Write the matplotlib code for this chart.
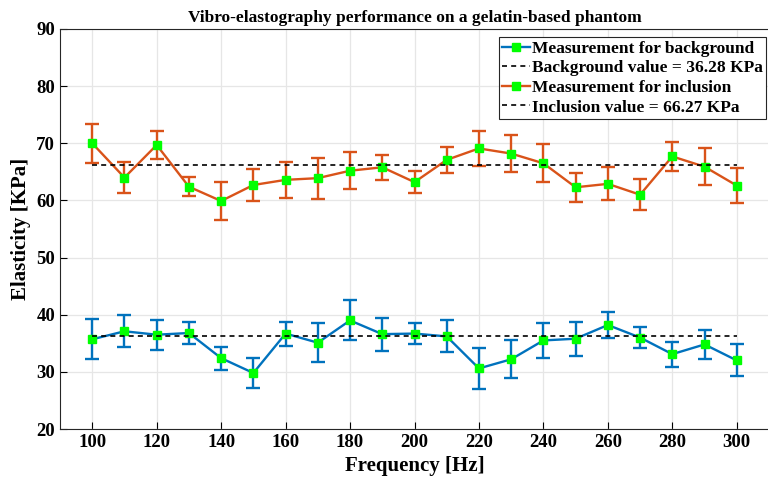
import matplotlib
matplotlib.use("Agg")
from matplotlib import pyplot as plt
from matplotlib.lines import Line2D

plt.rcParams['font.family'] = ['Liberation Serif', 'DejaVu Serif']
plt.rcParams['font.weight'] = 'bold'

freq = [100, 110, 120, 130, 140, 150, 160, 170, 180, 190, 200,
        210, 220, 230, 240, 250, 260, 270, 280, 290, 300]

bg_mean = [35.7, 37.1, 36.5, 36.8, 32.4, 29.8, 36.7, 35.1, 39.0, 36.6, 36.7,
           36.2, 30.6, 32.2, 35.5, 35.8, 38.2, 36.0, 33.1, 34.8, 32.0]
bg_err = [3.5, 2.8, 2.6, 1.9, 2.0, 2.6, 2.1, 3.4, 3.5, 2.9, 1.8,
          2.8, 3.6, 3.3, 3.1, 3.0, 2.2, 1.9, 2.2, 2.5, 2.8]

inc_mean = [70.0, 64.0, 69.7, 62.4, 59.9, 62.7, 63.6, 63.9, 65.2, 65.8, 63.2,
            67.1, 69.1, 68.2, 66.5, 62.3, 62.9, 61.0, 67.7, 65.9, 62.6]
inc_err = [3.4, 2.7, 2.4, 1.7, 3.3, 2.8, 3.2, 3.6, 3.2, 2.2, 1.9,
           2.3, 3.0, 3.3, 3.3, 2.5, 2.9, 2.7, 2.6, 3.2, 3.0]

bg_value = 36.28
inc_value = 66.27

blue = "#0072BD"
orange = "#D95319"
green = "#00FF00"

fig = plt.figure(figsize=(7.68, 4.83), dpi=100)
ax = fig.add_axes([60/768, 54/483, 709/768, 400/483])

ax.errorbar(freq, bg_mean, yerr=bg_err, color=blue, lw=1.7, capsize=5, capthick=1.7,
            marker='s', ms=6, mfc=green, mec=green, zorder=3)
ax.plot([freq[0], freq[-1]], [bg_value, bg_value], 'k--', lw=1.2, dashes=(3, 2.5), zorder=4)
ax.errorbar(freq, inc_mean, yerr=inc_err, color=orange, lw=1.7, capsize=5, capthick=1.7,
            marker='s', ms=6, mfc=green, mec=green, zorder=3)
ax.plot([freq[0], freq[-1]], [inc_value, inc_value], 'k--', lw=1.2, dashes=(3, 2.5), zorder=4)

ax.set_xlim(90, 310)
ax.set_ylim(20, 90)
ax.set_xticks(range(100, 301, 20))
ax.set_yticks(range(20, 91, 10))
ax.tick_params(direction='in', length=5, labelsize=13.5, width=0.8)
ax.grid(True, color="#e6e6e6", lw=0.9)
ax.set_axisbelow(True)
for s in ax.spines.values():
    s.set_color("#262626")
    s.set_linewidth(0.8)

ax.set_xlabel("Frequency [Hz]", fontsize=15, fontweight='bold')
ax.set_ylabel("Elasticity [KPa]", fontsize=15, fontweight='bold')
ax.set_title("Vibro-elastography performance on a gelatin-based phantom", fontsize=12.5,
             fontweight='bold', pad=5)

handles = [
    Line2D([], [], color=blue, lw=1.7, marker='s', ms=6, mfc=green, mec=green),
    Line2D([], [], color='k', ls='--', lw=1.2, dashes=(3, 2.5)),
    Line2D([], [], color=orange, lw=1.7, marker='s', ms=6, mfc=green, mec=green),
    Line2D([], [], color='k', ls='--', lw=1.2, dashes=(3, 2.5)),
]
labels = ["Measurement for background",
          "Background value = %.2f KPa" % bg_value,
          "Measurement for inclusion",
          "Inclusion value = %.2f KPa" % inc_value]
leg = ax.legend(handles, labels, loc='upper right', bbox_to_anchor=(0.9958, 0.98),
                fontsize=12.5, handlelength=1.6, handletextpad=0.1, borderpad=0.2,
                labelspacing=0.2, numpoints=1, fancybox=False, framealpha=1,
                edgecolor="#262626", borderaxespad=0)
leg.get_frame().set_linewidth(0.8)

fig.savefig("out.png", dpi=100)
